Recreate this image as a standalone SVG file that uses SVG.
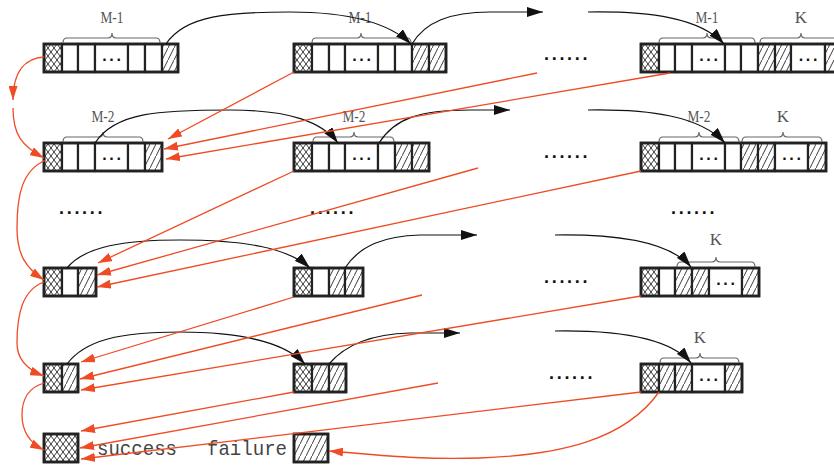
<svg xmlns="http://www.w3.org/2000/svg" width="834" height="465" viewBox="0 0 834 465">
<style>
.c{stroke:#222;stroke-width:2.2}
.x{fill:url(#xh)}
.h{fill:url(#hh)}
.w{fill:#fff}
.o{fill:none;stroke:#222;stroke-width:2.8}
.r{fill:none;stroke:#ef4b24;stroke-width:1.3;marker-end:url(#ar)}
.k{fill:none;stroke:#111;stroke-width:1.2;marker-end:url(#ak)}
.br{fill:none;stroke:#666;stroke-width:1.2}
.lb{font-family:"Liberation Serif",serif;font-size:17px;fill:#555;text-anchor:middle}
.dt{font-family:"Liberation Sans",sans-serif;font-weight:bold;font-size:18px;fill:#111;letter-spacing:2.7px}
.cd{font-family:"Liberation Sans",sans-serif;font-weight:bold;font-size:16px;fill:#111;letter-spacing:2.6px}
.tx{font-family:"Liberation Mono",monospace;font-size:21px;fill:#444}
</style>
<defs>
<pattern id="xh" width="6" height="8" patternUnits="userSpaceOnUse"><rect width="6" height="8" fill="#fff"/><path d="M-1,-1.33 L7,9.33 M7,-1.33 L-1,9.33" stroke="#222" stroke-width="0.9"/></pattern>
<pattern id="hh" width="6" height="12" patternUnits="userSpaceOnUse"><rect width="6" height="12" fill="#fff"/><path d="M-1,14 L7,-2" stroke="#222" stroke-width="0.9"/></pattern>
<marker id="ar" viewBox="0 0 14 9" refX="14" refY="4.5" markerWidth="14" markerHeight="9" markerUnits="userSpaceOnUse" orient="auto"><path d="M0,0 L14,4.5 L0,9 Z" fill="#ef4b24"/></marker>
<marker id="ak" viewBox="0 0 16 10" refX="16" refY="5" markerWidth="16" markerHeight="10" markerUnits="userSpaceOnUse" orient="auto"><path d="M0,0 L16,5 L0,10 Z" fill="#111"/></marker>
</defs>
<rect width="834" height="465" fill="#fff"/>

<!-- Row 1 -->
<g id="r1b1">
<rect class="c x" x="44" y="44" width="18" height="28"/><rect class="c w" x="62" y="44" width="16" height="28"/><rect class="c w" x="78" y="44" width="17" height="28"/><rect class="c w" x="95" y="44" width="33" height="28"/><rect class="c w" x="128" y="44" width="17" height="28"/><rect class="c w" x="145" y="44" width="17" height="28"/><rect class="c h" x="162" y="44" width="16" height="28"/>
<rect class="o" x="44" y="44" width="134" height="28"/>
<text class="cd" x="102.3" y="60.5">...</text>
<path class="br" d="M63,43 Q63,38 67,38 L108,38 Q112,38 112,33 Q112,38 116,38 L156,38 Q160,38 160,43"/>
<text class="lb" x="112" y="23" textLength="23" lengthAdjust="spacingAndGlyphs">M-1</text>
</g>
<g id="r1b2">
<rect class="c x" x="294" y="44" width="18" height="28"/><rect class="c w" x="312" y="44" width="17" height="28"/><rect class="c w" x="329" y="44" width="16" height="28"/><rect class="c w" x="345" y="44" width="33" height="28"/><rect class="c w" x="378" y="44" width="17" height="28"/><rect class="c w" x="395" y="44" width="17" height="28"/><rect class="c h" x="412" y="44" width="17" height="28"/><rect class="c h" x="429" y="44" width="17" height="28"/>
<rect class="o" x="294" y="44" width="152" height="28"/>
<text class="cd" x="352.3" y="60.5">...</text>
<path class="br" d="M312,43 Q312,38 316,38 L357,38 Q361,38 361,33 Q361,38 365,38 L407,38 Q411,38 411,43"/>
<text class="lb" x="360" y="23" textLength="23" lengthAdjust="spacingAndGlyphs">M-1</text>
</g>
<text id="r1gap" class="dt" x="544" y="59.5">......</text>
<g id="r1b3">
<rect class="c x" x="641" y="44" width="18" height="28"/><rect class="c w" x="659" y="44" width="16" height="28"/><rect class="c w" x="675" y="44" width="17" height="28"/><rect class="c w" x="692" y="44" width="33" height="28"/><rect class="c w" x="725" y="44" width="16" height="28"/><rect class="c w" x="741" y="44" width="17" height="28"/><rect class="c h" x="758" y="44" width="17" height="28"/><rect class="c h" x="775" y="44" width="16" height="28"/><rect class="c w" x="791" y="44" width="34" height="28"/><rect class="c h" x="825" y="44" width="17" height="28"/>
<rect class="o" x="641" y="44" width="201" height="28"/>
<text class="cd" x="699.3" y="60.5">...</text>
<text class="cd" x="798.8" y="60.5">...</text>
<path class="br" d="M659,43 Q659,38 663,38 L703,38 Q707,38 707,33 Q707,38 711,38 L751,38 Q755,38 755,43"/>
<path class="br" d="M760,43 Q760,38 764,38 L797,38 Q801,38 801,33 Q801,38 805,38 L838,38 Q842,38 842,43"/>
<text class="lb" x="707" y="23" textLength="23" lengthAdjust="spacingAndGlyphs">M-1</text>
<text class="lb" x="801" y="23">K</text>
</g>

<!-- Row 2 -->
<g id="r2b1">
<rect class="c x" x="44" y="143" width="18" height="28"/><rect class="c w" x="62" y="143" width="16" height="28"/><rect class="c w" x="78" y="143" width="17" height="28"/><rect class="c w" x="95" y="143" width="33" height="28"/><rect class="c w" x="128" y="143" width="17" height="28"/><rect class="c h" x="145" y="143" width="17" height="28"/>
<rect class="o" x="44" y="143" width="118" height="28"/>
<text class="cd" x="102.3" y="159.5">...</text>
<path class="br" d="M63,142 Q63,137 67,137 L99,137 Q103,137 103,132 Q103,137 107,137 L139,137 Q143,137 143,142"/>
<text class="lb" x="103" y="122" textLength="23" lengthAdjust="spacingAndGlyphs">M-2</text>
</g>
<g id="r2b2">
<rect class="c x" x="294" y="143" width="18" height="28"/><rect class="c w" x="312" y="143" width="17" height="28"/><rect class="c w" x="329" y="143" width="16" height="28"/><rect class="c w" x="345" y="143" width="33" height="28"/><rect class="c w" x="378" y="143" width="17" height="28"/><rect class="c h" x="395" y="143" width="17" height="28"/><rect class="c h" x="412" y="143" width="17" height="28"/>
<rect class="o" x="294" y="143" width="135" height="28"/>
<text class="cd" x="352.3" y="159.5">...</text>
<path class="br" d="M313,142 Q313,137 317,137 L350,137 Q354,137 354,132 Q354,137 358,137 L390,137 Q394,137 394,142"/>
<text class="lb" x="354" y="122" textLength="23" lengthAdjust="spacingAndGlyphs">M-2</text>
</g>
<text id="r2gap" class="dt" x="544" y="157.5">......</text>
<g id="r2b3">
<rect class="c x" x="641" y="143" width="18" height="28"/><rect class="c w" x="659" y="143" width="16" height="28"/><rect class="c w" x="675" y="143" width="17" height="28"/><rect class="c w" x="692" y="143" width="33" height="28"/><rect class="c w" x="725" y="143" width="16" height="28"/><rect class="c h" x="741" y="143" width="17" height="28"/><rect class="c h" x="758" y="143" width="17" height="28"/><rect class="c w" x="775" y="143" width="33" height="28"/><rect class="c h" x="808" y="143" width="18" height="28"/>
<rect class="o" x="641" y="143" width="185" height="28"/>
<text class="cd" x="699.3" y="159.5">...</text>
<text class="cd" x="782.3" y="159.5">...</text>
<path class="br" d="M659,142 Q659,137 663,137 L695,137 Q699,137 699,132 Q699,137 703,137 L735,137 Q739,137 739,142"/>
<path class="br" d="M742,142 Q742,137 746,137 L779,137 Q783,137 783,132 Q783,137 787,137 L818,137 Q822,137 822,142"/>
<text class="lb" x="699" y="122" textLength="23" lengthAdjust="spacingAndGlyphs">M-2</text>
<text class="lb" x="783" y="122">K</text>
</g>

<text id="gapL" class="dt" x="59" y="213.5">......</text>
<text id="gapM" class="dt" x="310" y="213.5">......</text>
<text id="gapR" class="dt" x="671" y="213.5">......</text>

<!-- Row 3 -->
<g id="r3b1">
<rect class="c x" x="44" y="268" width="18" height="28"/><rect class="c w" x="62" y="268" width="16" height="28"/><rect class="c h" x="78" y="268" width="18" height="28"/>
<rect class="o" x="44" y="268" width="52" height="28"/>
</g>
<g id="r3b2">
<rect class="c x" x="294" y="268" width="18" height="28"/><rect class="c w" x="312" y="268" width="17" height="28"/><rect class="c h" x="329" y="268" width="16" height="28"/><rect class="c h" x="345" y="268" width="18" height="28"/>
<rect class="o" x="294" y="268" width="69" height="28"/>
</g>
<text id="r3gap" class="dt" x="544" y="282.5">......</text>
<g id="r3b3">
<rect class="c x" x="641" y="268" width="18" height="28"/><rect class="c w" x="659" y="268" width="16" height="28"/><rect class="c h" x="675" y="268" width="17" height="28"/><rect class="c h" x="692" y="268" width="17" height="28"/><rect class="c w" x="709" y="268" width="33" height="28"/><rect class="c h" x="742" y="268" width="17" height="28"/>
<rect class="o" x="641" y="268" width="118" height="28"/>
<text class="cd" x="716.3" y="284.5">...</text>
<path class="br" d="M677,267 Q677,262 681,262 L712,262 Q716,262 716,257 Q716,262 720,262 L751,262 Q755,262 755,267"/>
<text class="lb" x="716" y="245">K</text>
</g>

<!-- Row 4 -->
<g id="r4b1">
<rect class="c x" x="44" y="364" width="18" height="28"/><rect class="c h" x="62" y="364" width="16" height="28"/>
<rect class="o" x="44" y="364" width="34" height="28"/>
</g>
<g id="r4b2">
<rect class="c x" x="294" y="364" width="18" height="28"/><rect class="c h" x="312" y="364" width="17" height="28"/><rect class="c h" x="329" y="364" width="17" height="28"/>
<rect class="o" x="294" y="364" width="52" height="28"/>
</g>
<text id="r4gap" class="dt" x="549" y="378.5">......</text>
<g id="r4b3">
<rect class="c x" x="641" y="364" width="18" height="28"/><rect class="c h" x="659" y="364" width="16" height="28"/><rect class="c h" x="675" y="364" width="17" height="28"/><rect class="c w" x="692" y="364" width="33" height="28"/><rect class="c h" x="725" y="364" width="17" height="28"/>
<rect class="o" x="641" y="364" width="101" height="28"/>
<text class="cd" x="699.3" y="380.5">...</text>
<path class="br" d="M660,363 Q660,358 664,358 L696,358 Q700,358 700,353 Q700,358 704,358 L735,358 Q739,358 739,363"/>
<text class="lb" x="700" y="343">K</text>
</g>

<!-- Bottom -->
<g id="success">
<rect class="c x" x="44" y="434" width="34" height="28"/>
<rect class="o" x="44" y="434" width="34" height="28"/>
<text class="tx" x="97" y="455" textLength="80" lengthAdjust="spacingAndGlyphs">success</text>
</g>
<g id="failure">
<text class="tx" x="207" y="455" textLength="80" lengthAdjust="spacingAndGlyphs">failure</text>
<rect class="c h" x="294" y="434" width="34" height="28"/>
<rect class="o" x="294" y="434" width="34" height="28"/>
</g>

<g id="connectors">
<path class="k" d="M166,44 C185,15 230,12 290,12 C345,12 388,22 411,44"/>
<path class="k" d="M412,44 C425,22 450,12 490,12 L543,12"/>
<path class="k" d="M588,12 C650,11 700,18 724,44"/>
<path class="k" d="M95,143 C115,112 160,110 230,110 C290,110 322,122 338,143"/>
<path class="k" d="M379,143 C395,118 420,110 470,110 L510,110"/>
<path class="k" d="M588,110 C650,109 700,116 725,143"/>
<path class="k" d="M67,268 C85,246 125,240 180,240 C245,240 288,248 310,268"/>
<path class="k" d="M345,268 C360,245 385,236 420,235 L477,235"/>
<path class="k" d="M555,235 C620,234 670,242 691,267"/>
<path class="k" d="M67,364 C85,340 120,332 180,332 C250,332 288,346 305,364"/>
<path class="k" d="M329,364 C345,345 370,334 410,333 L460,333"/>
<path class="k" d="M555,331 C620,330 670,338 691,363"/>
<path class="r" d="M44,57 C28,58 13,68 13,100"/>
<path class="r" d="M13,108 C13,135 22,146 44,158"/>
<path class="r" d="M46,160 C22,170 17,195 17,228 C17,255 26,268 44,280"/>
<path class="r" d="M44,282 C22,290 17,315 17,343 C17,360 28,370 44,376"/>
<path class="r" d="M44,383 C27,388 22,400 22,415 C22,432 30,443 44,450"/>
<path class="r" d="M294,72 L168,139"/>
<path class="r" d="M537,73 L164,149"/>
<path class="r" d="M670,73 L166,159"/>
<path class="r" d="M294,171 L98,263"/>
<path class="r" d="M478,168 L97,275"/>
<path class="r" d="M641,171 L97,287"/>
<path class="r" d="M294,297 L81,362"/>
<path class="r" d="M422,295 L80,379"/>
<path class="r" d="M641,296 L81,390"/>
<path class="r" d="M294,392 L81,431"/>
<path class="r" d="M438,383 L80,448"/>
<path class="r" d="M641,392 L81,459"/>
<path class="r" d="M659,392 C625,440 560,455 480,458 C420,460 380,455 329,451"/>
</g>
</svg>
